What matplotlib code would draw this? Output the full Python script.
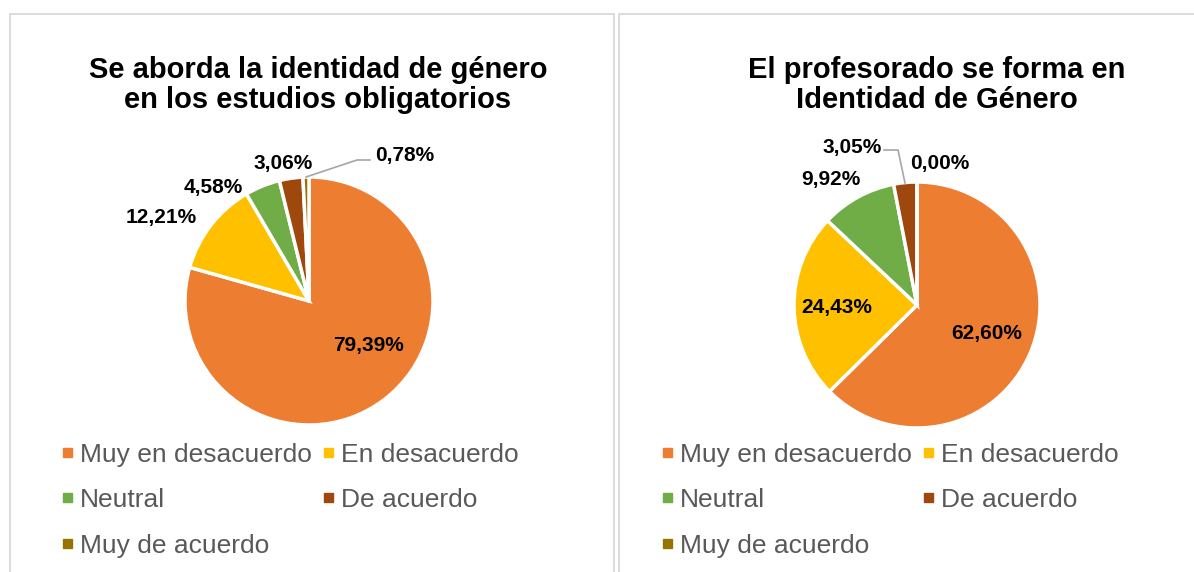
import matplotlib.pyplot as plt
from matplotlib.patches import Rectangle

# datos
categorias = ['Muy en desacuerdo', 'En desacuerdo', 'Neutral', 'De acuerdo', 'Muy de acuerdo']
colores = ['#ED7D31', '#FFC000', '#70AD47', '#9E480E', '#997300']

titulo_1 = 'Se aborda la identidad de género\nen los estudios obligatorios'
valores_1 = [79.39, 12.21, 4.58, 3.06, 0.78]

titulo_2 = 'El profesorado se forma en\nIdentidad de Género'
valores_2 = [62.60, 24.43, 9.92, 3.05, 0.00]

W, H = 1194, 572
plt.rcParams['font.family'] = ['Liberation Sans', 'DejaVu Sans']

fig = plt.figure(figsize=(W / 100, H / 100), dpi=100)
ax = fig.add_axes([0, 0, 1, 1])


def Y(y):
    # pasar de coordenadas de imagen (y hacia abajo) a las del eje
    return H - y


def fmt(v):
    return f"{v:.2f}%".replace('.', ',')


def panel(x0, x1, tx, cx, cy, r, titulo, valores, pos_etiquetas, guia, col_x):
    ax.add_patch(Rectangle((x0, Y(H + 5)), x1 - x0, H + 5 - 14, fill=False,
                           edgecolor='#D9D9D9', linewidth=1.3))
    ax.text(tx, Y(108), titulo, ha='center', va='baseline',
            fontsize=21, fontweight='bold', color='black', linespacing=1.1)

    ax.pie(valores, colors=colores, startangle=90, counterclock=False,
           center=(cx, Y(cy)), radius=r, frame=True,
           wedgeprops=dict(edgecolor='white', linewidth=2.5))

    for v, (lx, ly) in zip(valores, pos_etiquetas):
        ax.text(lx, Y(ly), fmt(v), ha='center', va='center',
                fontsize=15, fontweight='bold', color='black')

    gx = [p[0] for p in guia]
    gy = [Y(p[1]) for p in guia]
    ax.plot(gx, gy, color='#A6A6A6', linewidth=1.2)

    # leyenda
    fila_y = [462, 507, 553]
    for i, cat in enumerate(categorias):
        mx = col_x[i % 2]
        by = fila_y[i // 2]
        ax.add_patch(Rectangle((mx - 4.5, Y(by - 10) - 4.5), 9, 9, color=colores[i]))
        ax.text(mx + 13, Y(by), cat, ha='left', va='baseline',
                fontsize=19, color='#595959')


panel(10, 614, 318, 309, 301, 124, titulo_1, valores_1,
      [(368, 345), (161, 217), (213, 187), (283, 163), (405, 156)],
      [(306, 177), (357, 160), (370, 160)], [67, 328])

panel(619, 1220, 937, 917, 305, 123, titulo_2, valores_2,
      [(987, 333), (837, 307), (831, 180), (852, 148), (940, 164)],
      [(884, 150), (898, 150), (905, 183)], [667, 928])

ax.set_xlim(0, W)
ax.set_ylim(0, H)
ax.set_aspect('auto')
ax.axis('off')

fig.savefig('out.png', dpi=100, facecolor='white')
